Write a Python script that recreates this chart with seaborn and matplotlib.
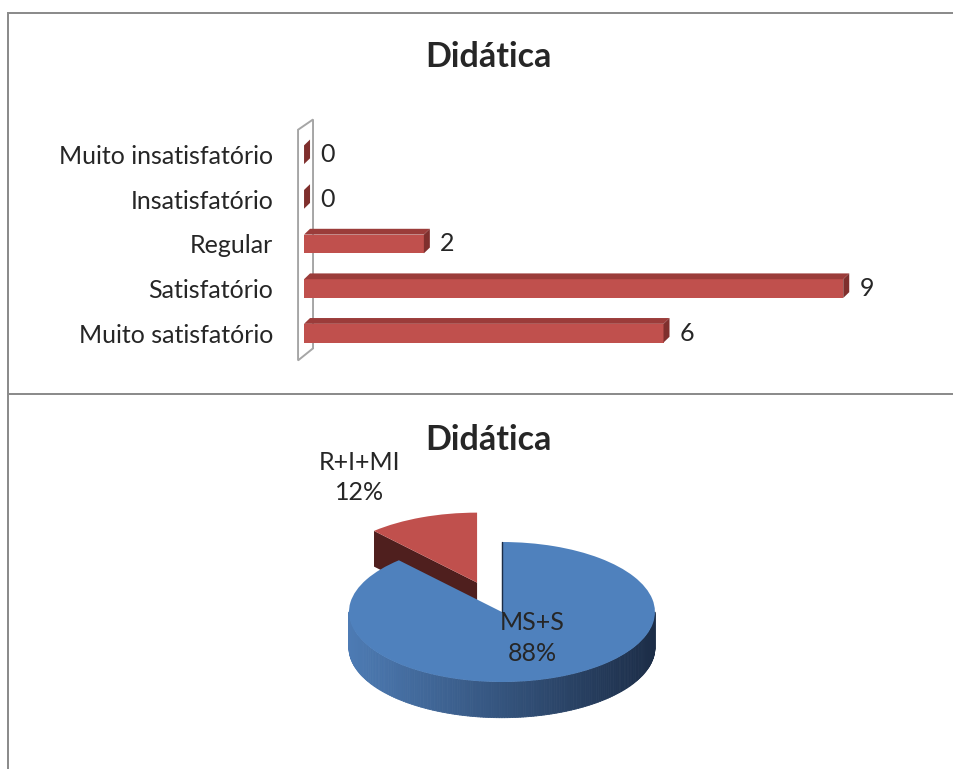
import numpy as np
import matplotlib
matplotlib.use("Agg")
import matplotlib.pyplot as plt
from matplotlib.patches import Polygon, Rectangle
from matplotlib.collections import PolyCollection
from matplotlib.colors import to_rgb
import seaborn as sns

# === data ===
categories = ["Muito insatisfatório", "Insatisfatório", "Regular", "Satisfatório", "Muito satisfatório"]
counts = [0, 0, 2, 9, 6]
pie_labels = ["MS+S", "R+I+MI"]
pie_counts = [counts[3] + counts[4], counts[0] + counts[1] + counts[2]]
title = "Didática"

# === style ===
sns.set_style("white")
plt.rcParams["font.family"] = ["Lato", "DejaVu Sans"]
RED = "#c0504d"
RED_TOP = "#9b3c3a"
RED_END = "#7f2f2d"
BLUE = "#4f81bd"
FS = 18

W, H = 954, 769
fig = plt.figure(figsize=(W / 100, H / 100), dpi=100, facecolor="white")

# frame like the spreadsheet cells: thin filled strips (top, middle, left)
for rect in [(8 / W, 1 - 14 / H, 1 - 8 / W, 2 / H),
             (8 / W, 1 - 395 / H, 1 - 8 / W, 2 / H),
             (7 / W, 0, 2 / W, 1 - 12 / H)]:
    fig.add_artist(Rectangle(rect[:2], rect[2], rect[3], transform=fig.transFigure,
                             facecolor="#8c8c8c", edgecolor="none", lw=0))

# === 1. horizontal bar chart with a bit of depth ===
ax = fig.add_axes([0.3187, 0.5319, 0.628, 0.3017])
ax.patch.set_alpha(0)
sns.barplot(x=counts, y=categories, orient="h", color=RED, width=0.42,
            saturation=1, linewidth=0, edgecolor="none", ax=ax, zorder=3)
ax.set_xlim(0, 10)
ax.set_ylim(4.6, -0.6)
ax.set_xlabel("")
ax.set_ylabel("")
ax.set_xticks([])
ax.tick_params(axis="y", length=0, pad=22, labelsize=FS)
for s in ax.spines.values():
    s.set_visible(False)

# back wall
wall = Polygon([(-0.1, -0.56), (0.15, -0.79), (0.15, 4.34), (-0.1, 4.61)], closed=True,
               facecolor="white", edgecolor="#a6a6a6", lw=1.4, zorder=1, clip_on=False)
ax.add_patch(wall)

dx, dy = 0.1, -0.13
for p, v in zip(ax.patches[:len(counts)], counts):
    x0, y0, w, h = p.get_x(), p.get_y(), p.get_width(), p.get_height()
    top = Polygon([(x0, y0), (x0 + w, y0), (x0 + w + dx, y0 + dy), (x0 + dx, y0 + dy)],
                  facecolor=RED_TOP, edgecolor="none", zorder=3, clip_on=False)
    end = Polygon([(x0 + w, y0), (x0 + w + dx, y0 + dy), (x0 + w + dx, y0 + h + dy), (x0 + w, y0 + h)],
                  facecolor=RED_END, edgecolor="none", zorder=3, clip_on=False)
    ax.add_patch(top)
    ax.add_patch(end)
    ax.text(x0 + w + 0.27, y0 + h / 2, str(v), va="center", ha="left", fontsize=FS)

fig.text(0.512, 0.926, title, ha="center", va="center", fontsize=24.5, fontweight="bold")

# === 2. pie with depth ===
pax = fig.add_axes([0.2856, 0.0494, 0.4811, 0.3095])
wedges, _ = pax.pie(pie_counts, colors=[BLUE, RED], startangle=90, counterclock=False,
                    explode=[0, 0.45], wedgeprops=dict(linewidth=0, edgecolor="none"))
pax.set_aspect("auto")
pax.set_xlim(-1.5, 1.5)
pax.set_ylim(-1.7, 1.7)
pax.axis("off")

depth = 0.51
side_left = np.array(to_rgb("#4d7bb4"))
side_right = np.array(to_rgb("#1c2d47"))

blue_w, red_w = wedges
blue_w.set_zorder(4)
red_w.set_zorder(2)

# blue outer side (front half)
cx, cy = blue_w.center
angs = np.linspace(180, 360, 181)
polys, cols = [], []
for a0, a1 in zip(angs[:-1], angs[1:]):
    r0, r1 = np.radians(a0), np.radians(a1)
    quad = [(cx + np.cos(r0), cy + np.sin(r0)), (cx + np.cos(r1), cy + np.sin(r1)),
            (cx + np.cos(r1), cy + np.sin(r1) - depth), (cx + np.cos(r0), cy + np.sin(r0) - depth)]
    polys.append(quad)
    f = (np.cos((r0 + r1) / 2) + 1) / 2
    cols.append(side_left * (1 - f) + side_right * f)
pax.add_collection(PolyCollection(polys, facecolors=cols, edgecolors=cols, lw=0.6, zorder=3))

# thin dark edge where the blue slice was cut at 12 o'clock
pax.plot([cx, cx], [cy, cy + 1], color="#1c2d47", lw=1, zorder=5)

# dark radial face on the left edge of the exploded red slice
rcx, rcy = red_w.center
ra = np.radians(max(red_w.theta1, red_w.theta2))
face = Polygon([(rcx, rcy), (rcx + np.cos(ra), rcy + np.sin(ra)),
                (rcx + np.cos(ra), rcy + np.sin(ra) - depth), (rcx, rcy - depth)],
               facecolor="#4f1f1e", edgecolor="none", zorder=1)
pax.add_patch(face)

total = sum(pie_counts)
pax.text(0.196, -0.37, f"{pie_labels[0]}\n{round(100 * pie_counts[0] / total)}%",
         ha="center", va="center", fontsize=FS, linespacing=1.4, zorder=6)
pax.text(-0.93, 1.92, f"{pie_labels[1]}\n{round(100 * pie_counts[1] / total)}%",
         ha="center", va="center", fontsize=FS, linespacing=1.4, clip_on=False, zorder=6)

fig.text(0.512, 0.428, title, ha="center", va="center", fontsize=24.5, fontweight="bold")

fig.savefig("out.png", dpi=100, facecolor="white")
